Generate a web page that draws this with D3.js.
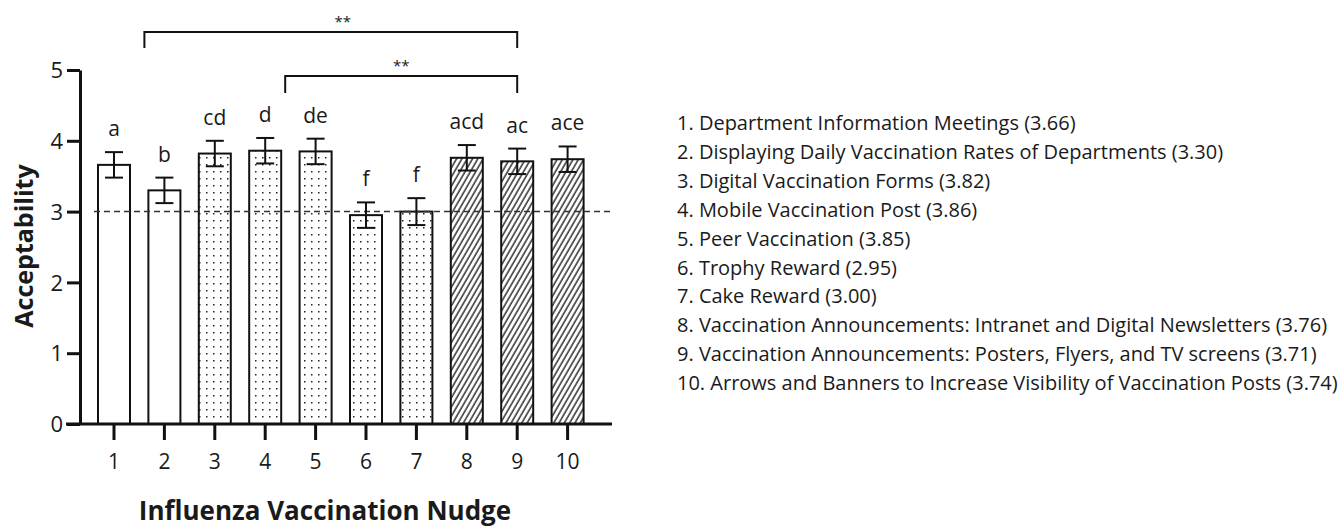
<!DOCTYPE html>
<html>
<head>
<meta charset="utf-8">
<script src="https://cdn.jsdelivr.net/npm/d3@7"></script>
<style>
  body { margin: 0; background: #fff; }
  svg { display: block; }
  text { font-family: "Open Sans", "DejaVu Sans", sans-serif; fill: #1a1a1a; }
</style>
</head>
<body>
<svg id="chart" width="1344" height="528"></svg>
<script>
// chart data
var nudges = [1, 2, 3, 4, 5, 6, 7, 8, 9, 10];
var means = [3.66, 3.30, 3.82, 3.86, 3.85, 2.95, 3.00, 3.76, 3.71, 3.74];
var errors = [0.18, 0.18, 0.18, 0.18, 0.18, 0.18, 0.19, 0.18, 0.18, 0.18];
var groupLetters = ['a', 'b', 'cd', 'd', 'de', 'f', 'f', 'acd', 'ac', 'ace'];
var fills = ['open', 'open', 'dots', 'dots', 'dots', 'dots', 'dots', 'hatch', 'hatch', 'hatch'];
var nudgeNames = [
  'Department Information Meetings',
  'Displaying Daily Vaccination Rates of Departments',
  'Digital Vaccination Forms',
  'Mobile Vaccination Post',
  'Peer Vaccination',
  'Trophy Reward',
  'Cake Reward',
  'Vaccination Announcements: Intranet and Digital Newsletters',
  'Vaccination Announcements: Posters, Flyers, and TV screens',
  'Arrows and Banners to Increase Visibility of Vaccination Posts'
];
var yTicks = [0, 1, 2, 3, 4, 5];
var threshold = 3;
var comparisons = [
  { from: 2, to: 9, label: '**' },
  { from: 4, to: 9, label: '**' }
];

// layout
var bracketLayout = [
  { y: 32, leg: 16, dxFrom: -20, dxLabel: 12, labelY: 27 },
  { y: 76, leg: 17, dxFrom: 20, dxLabel: 0, labelY: 71 }
];

var svg = d3.select('#chart');

var x = d3.scaleBand()
  .domain(nudges)
  .range([88.8, 592.8])
  .paddingInner(0.365)
  .paddingOuter(0.1825);
var y = d3.scaleLinear()
  .domain([0, 5])
  .range([424, 70]);

function cx(d) { return x(d) + x.bandwidth() / 2; }

// patterns
var defs = svg.append('defs');
var dots = defs.append('pattern')
  .attr('id', 'dots')
  .attr('patternUnits', 'userSpaceOnUse')
  .attr('width', 7).attr('height', 7);
dots.append('rect').attr('width', 7).attr('height', 7).attr('fill', '#fff');
dots.append('rect').attr('x', 3).attr('y', 3).attr('width', 1.5).attr('height', 1.5).attr('fill', '#222');

var hatch = defs.append('pattern')
  .attr('id', 'hatch')
  .attr('patternUnits', 'userSpaceOnUse')
  .attr('width', 4.6).attr('height', 10)
  .attr('patternTransform', 'rotate(30)');
hatch.append('rect').attr('width', 4.6).attr('height', 10).attr('fill', '#fff');
hatch.append('line').attr('x1', 1).attr('x2', 1).attr('y1', 0).attr('y2', 10)
  .attr('stroke', '#111').attr('stroke-width', 1.3);

// bars
svg.append('g').selectAll('rect')
  .data(nudges)
  .enter().append('rect')
  .attr('x', function(d) { return x(d); })
  .attr('y', function(d, i) { return y(means[i]); })
  .attr('width', x.bandwidth())
  .attr('height', function(d, i) { return y(0) - y(means[i]); })
  .attr('fill', function(d, i) { return fills[i] === 'open' ? '#fff' : 'url(#' + fills[i] + ')'; })
  .attr('stroke', '#111')
  .attr('stroke-width', 2);

// reference line
svg.append('line')
  .attr('x1', 94).attr('x2', 613)
  .attr('y1', y(threshold)).attr('y2', y(threshold))
  .attr('stroke', '#333')
  .attr('stroke-width', 1.5)
  .attr('stroke-dasharray', '6,4');

// error bars
var err = svg.append('g').attr('stroke', '#111').attr('stroke-width', 2);
nudges.forEach(function(d, i) {
  var c = cx(d), hi = y(means[i] + errors[i]), lo = y(means[i] - errors[i]);
  err.append('line').attr('x1', c).attr('x2', c).attr('y1', hi).attr('y2', lo);
  err.append('line').attr('x1', c - 9).attr('x2', c + 9).attr('y1', hi).attr('y2', hi);
  err.append('line').attr('x1', c - 9).attr('x2', c + 9).attr('y1', lo).attr('y2', lo);
});

// group letters
svg.append('g').selectAll('text')
  .data(nudges)
  .enter().append('text')
  .attr('text-anchor', 'middle')
  .attr('x', function(d) { return cx(d); })
  .attr('y', function(d, i) { return y(means[i] + errors[i]) - 16; })
  .style('font-size', '21px')
  .text(function(d, i) { return groupLetters[i]; });

// significance brackets
comparisons.forEach(function(c, i) {
  var L = bracketLayout[i];
  var x1 = cx(c.from) + L.dxFrom, x2 = cx(c.to);
  svg.append('path')
    .attr('d', 'M' + x1 + ',' + (L.y + L.leg) + 'V' + L.y + 'H' + x2 + 'V' + (L.y + L.leg))
    .attr('fill', 'none')
    .attr('stroke', '#111')
    .attr('stroke-width', 2);
  svg.append('text')
    .attr('text-anchor', 'middle')
    .attr('x', (x1 + x2) / 2 + L.dxLabel)
    .attr('y', L.labelY)
    .style('font-size', '15px')
    .text(c.label);
});

// y axis
var yAxis = svg.append('g')
  .attr('transform', 'translate(80,0)')
  .call(d3.axisLeft(y).tickValues(yTicks).tickSize(13).tickSizeOuter(0).tickFormat(d3.format('d')));
yAxis.select('.domain').attr('stroke', '#111').attr('stroke-width', 3);
yAxis.selectAll('.tick line').attr('stroke', '#111').attr('stroke-width', 3);
yAxis.selectAll('.tick text')
  .style('font-size', '22px')
  .attr('fill', '#1a1a1a')
  .attr('x', -17)
  .attr('dy', '0.35em');

// x axis
var xAxis = svg.append('g')
  .attr('transform', 'translate(0,424)')
  .call(d3.axisBottom(x).tickSize(16).tickSizeOuter(0));
xAxis.select('.domain').remove();
xAxis.append('line')
  .attr('x1', 66).attr('x2', 612)
  .attr('stroke', '#111').attr('stroke-width', 3);
xAxis.selectAll('.tick line').attr('stroke', '#111').attr('stroke-width', 3);
xAxis.selectAll('.tick text')
  .style('font-size', '21px')
  .attr('fill', '#1a1a1a')
  .attr('y', 45)
  .attr('dy', 0);

// axis titles
svg.append('text')
  .attr('text-anchor', 'middle')
  .attr('x', 325)
  .attr('y', 520)
  .style('font-size', '26px')
  .style('font-weight', 'bold')
  .text('Influenza Vaccination Nudge');

svg.append('text')
  .attr('text-anchor', 'middle')
  .attr('transform', 'translate(33,246) rotate(-90)')
  .style('font-size', '25px')
  .style('font-weight', 'bold')
  .text('Acceptability');

// legend list
svg.append('g').selectAll('text')
  .data(nudges)
  .enter().append('text')
  .attr('x', 677)
  .attr('y', function(d, i) { return 130 + i * 28.9; })
  .style('font-size', '20px')
  .attr('fill', '#222')
  .text(function(d, i) { return d + '. ' + nudgeNames[i] + ' (' + means[i].toFixed(2) + ')'; });
</script>
</body>
</html>
